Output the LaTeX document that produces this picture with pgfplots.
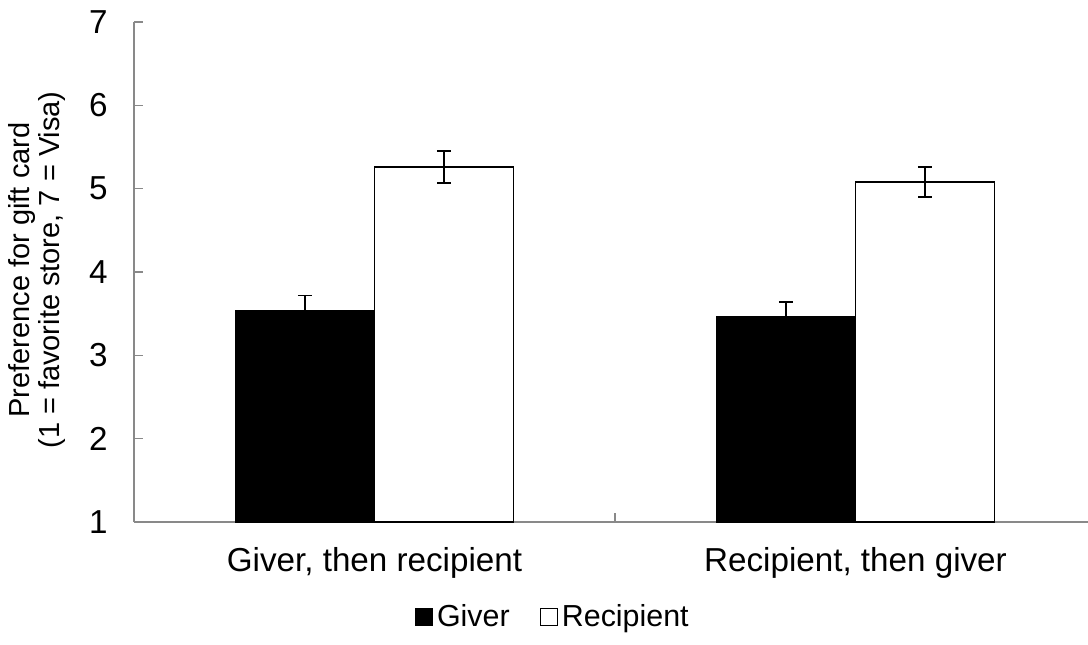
\documentclass[border=0pt]{standalone}
\usepackage{pgfplots}
\pgfplotsset{compat=1.18}
\usepackage{fontspec}
\setmainfont{Liberation Sans}
\definecolor{axgray}{HTML}{898989}
\begin{document}
\begin{tikzpicture}[x=1pt,y=1pt]
\useasboundingbox (0,0) rectangle (544,322);
\begin{axis}[
  at={(67pt,61pt)}, anchor=south west,
  scale only axis, width=477pt, height=250pt,
  xmin=-0.5, xmax=1.4834, ymin=1, ymax=7,
  ybar=0pt, bar width=69.5pt,
  axis lines*=left,
  axis line style={axgray, line width=0.65pt},
  ytick={1,...,7},
  tick align=inside,
  major tick length=4.5pt,
  tick style={axgray, line width=0.65pt},
  xtick={0.5}, xticklabels={},
  extra x ticks={0,1},
  extra x tick labels={{Giver, then recipient},{Recipient, then giver}},
  extra x tick style={major tick length=0pt, xticklabel style={anchor=base, yshift=-24.5pt, inner sep=0pt, font=\fontsize{16.6}{19}\selectfont}},
  yticklabel style={anchor=east, inner sep=0pt, xshift=-13pt, font=\fontsize{16.6}{19}\selectfont},
  /pgf/number format/assume math mode=true,
  enlarge x limits=false,
  legend style={at={(axis description cs:0.44,-0.19)}, anchor=center, draw=none, legend columns=2, font=\fontsize{15.2}{18}\selectfont, /tikz/every even column/.append style={column sep=13pt}},
  legend image code/.code={\draw[#1, line width=0.6pt] (0pt,-4.25pt) rectangle (8.5pt,4.25pt);},
]
\addplot[fill=black, draw=black, line width=0.75pt,
  error bars/.cd, y dir=both, y explicit,
  error bar style={line width=0.75pt, black},
  error mark options={rotate=90, mark size=3.5pt, line width=0.75pt, black}]
  coordinates {(0,3.54) +- (0,0.18) (1,3.46) +- (0,0.18)};
\addplot[fill=white, draw=black, line width=0.75pt,
  error bars/.cd, y dir=both, y explicit,
  error bar style={line width=0.75pt, black},
  error mark options={rotate=90, mark size=3.5pt, line width=0.75pt, black}]
  coordinates {(0,5.26) +- (0,0.19) (1,5.08) +- (0,0.18)};
\legend{Giver, Recipient}
\end{axis}
\node[rotate=90, align=center, font=\fontsize{14.5}{11.5}\selectfont] at (18.5,187) {Preference for gift card\\(1 = favorite store, 7 = Visa)};
\end{tikzpicture}
\end{document}
